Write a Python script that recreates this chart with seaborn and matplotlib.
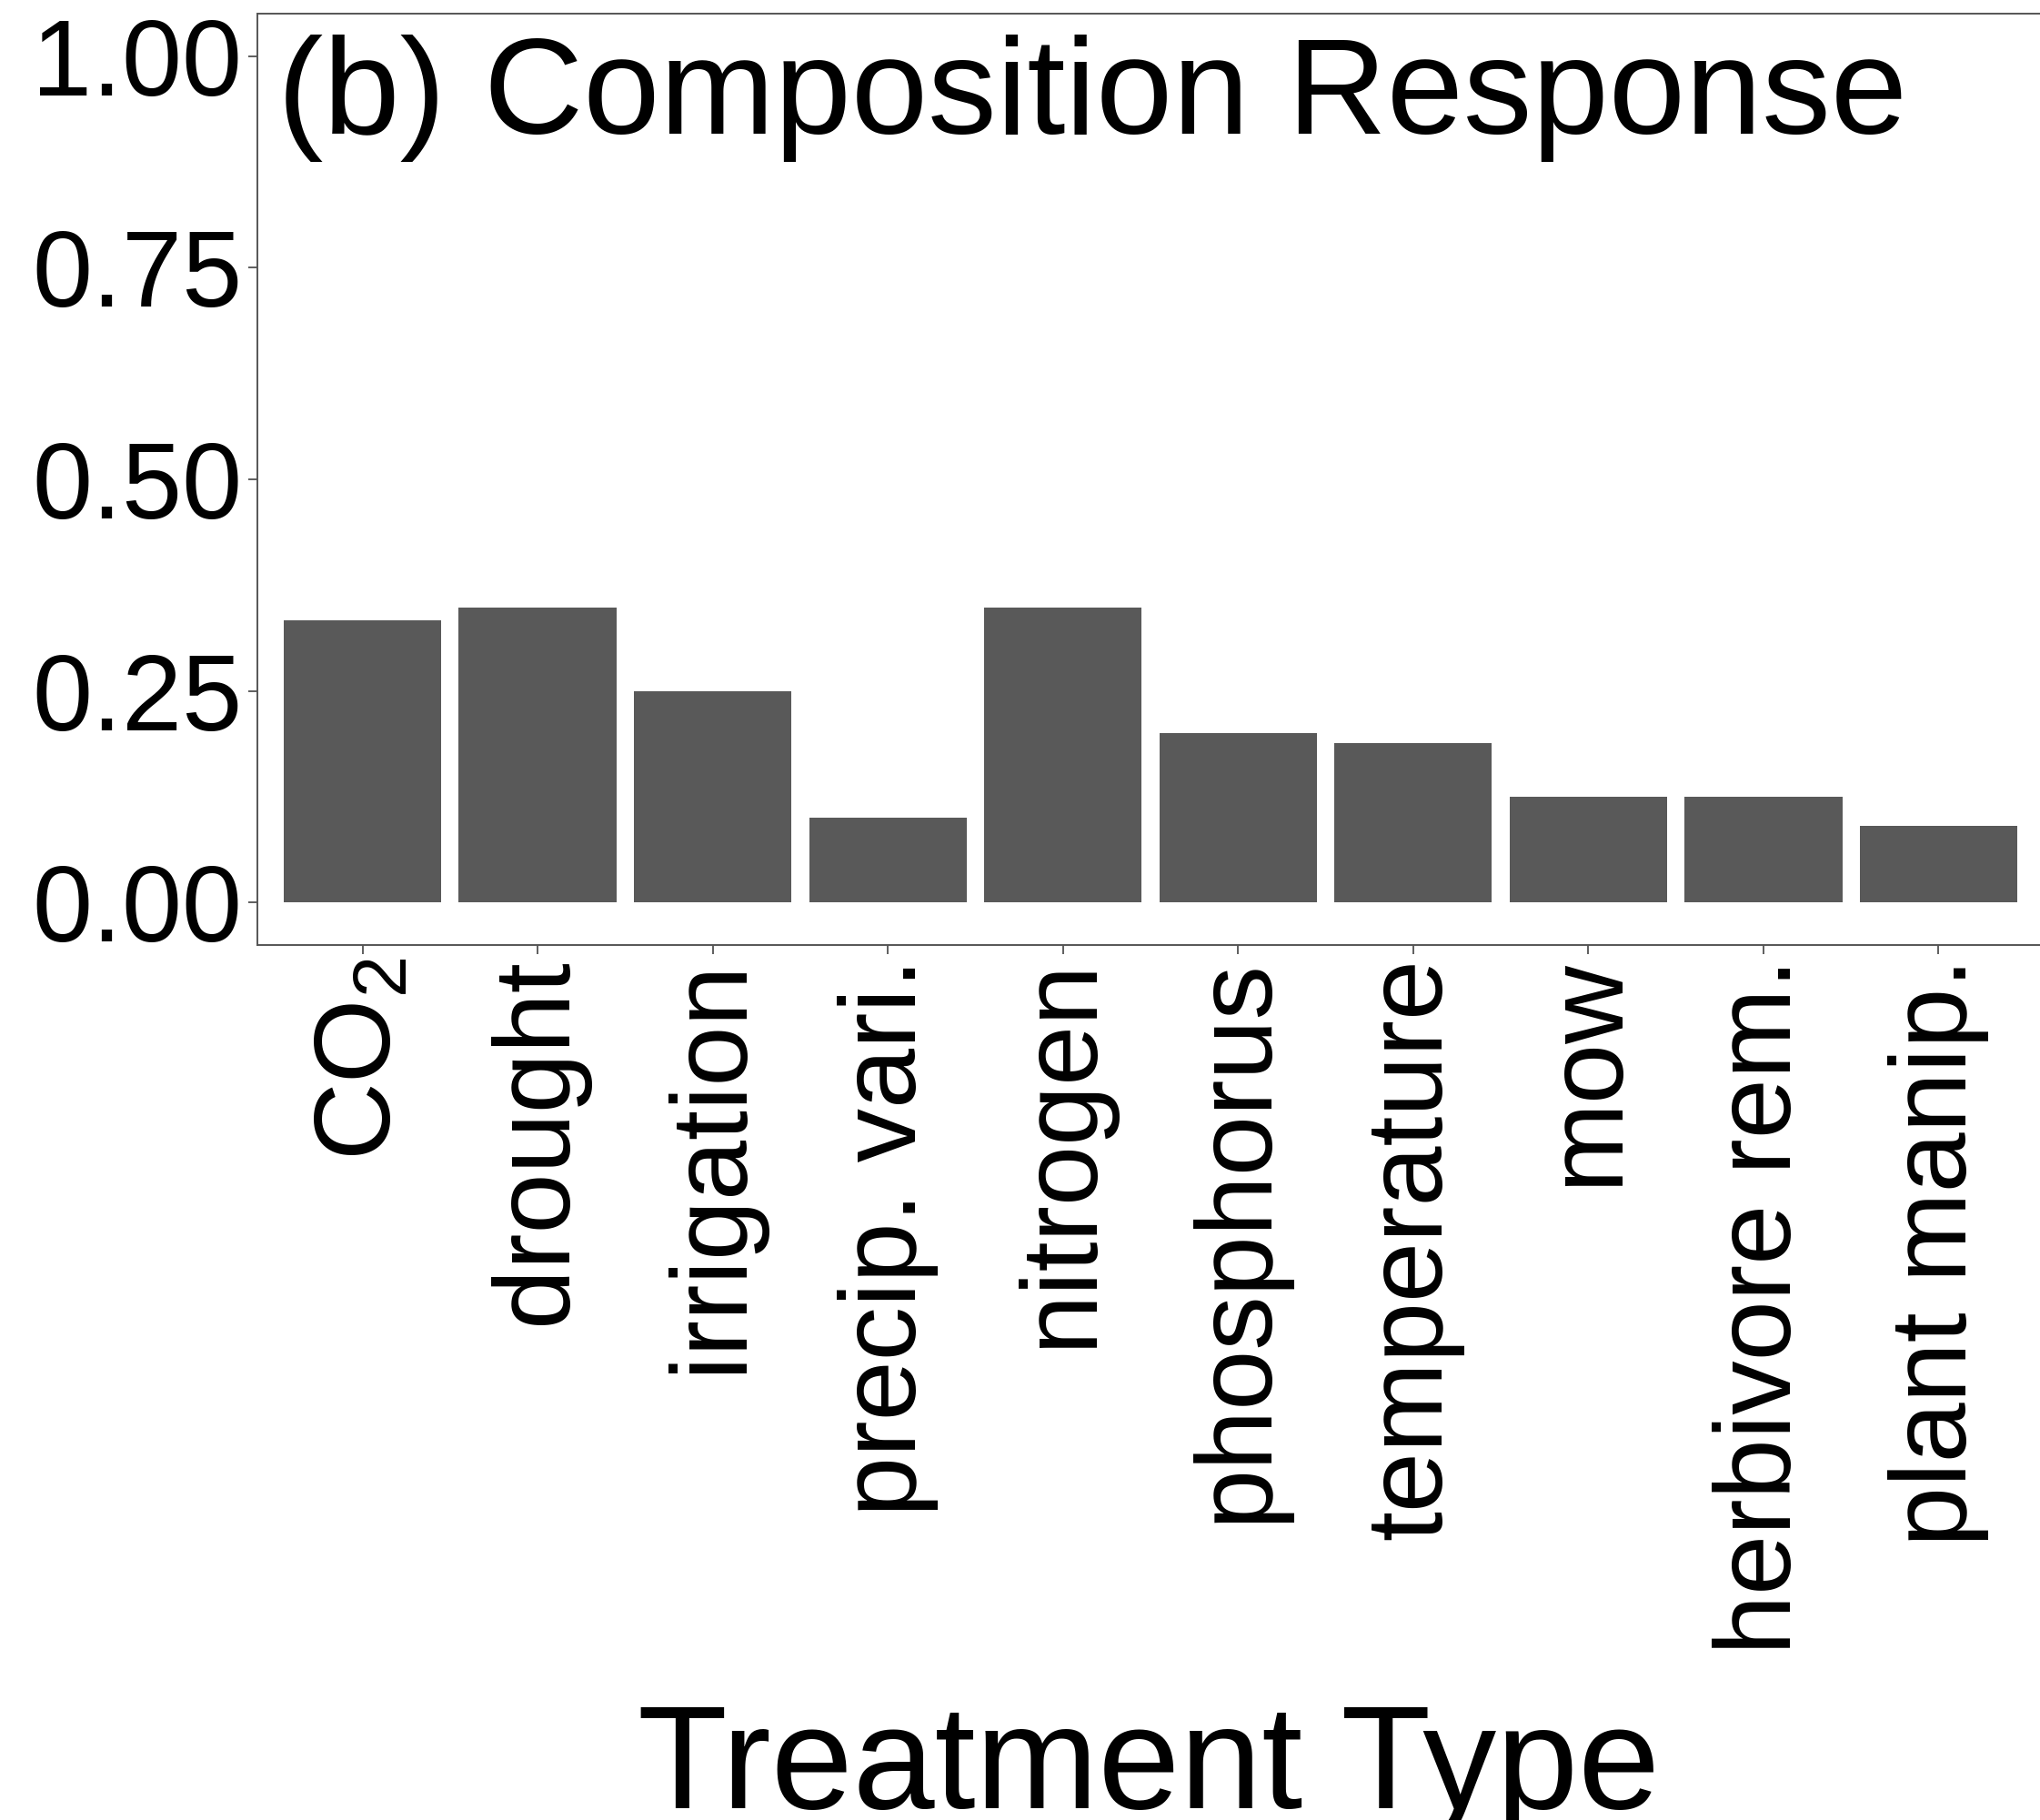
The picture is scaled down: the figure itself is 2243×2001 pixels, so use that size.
import matplotlib

matplotlib.use("Agg")
import matplotlib.pyplot as plt
import pandas as pd
import seaborn as sns

# Data
treatments = [
    "CO$_2$",
    "drought",
    "irrigation",
    "precip. vari.",
    "nitrogen",
    "phosphorus",
    "temperature",
    "mow",
    "herbivore rem.",
    "plant manip.",
]
proportion = [0.333, 0.348, 0.25, 0.10, 0.348, 0.20, 0.188, 0.125, 0.125, 0.091]
y_ticks = [0.0, 0.25, 0.5, 0.75, 1.0]
y_tick_labels = ["0.00", "0.25", "0.50", "0.75", "1.00"]

df = pd.DataFrame({"treatment": treatments, "proportion": proportion})

sns.set_style("white")
plt.rcParams["font.family"] = ["Liberation Sans", "DejaVu Sans"]
plt.rcParams["text.color"] = "black"
plt.rcParams["mathtext.fontset"] = "custom"
plt.rcParams["mathtext.rm"] = "Liberation Sans"
plt.rcParams["mathtext.it"] = "Liberation Sans:italic"
plt.rcParams["mathtext.default"] = "regular"

W, H = 2243, 2001
fig = plt.figure(figsize=(W / 100, H / 100), dpi=100)
# panel: left 283px, top 15px, bottom 1039px, right runs off the canvas
ax = fig.add_axes([283 / W, 1 - 1039 / H, 1964 / W, 1024 / H])

sns.barplot(
    data=df,
    x="treatment",
    y="proportion",
    color="#595959",
    saturation=1,
    width=0.9,
    linewidth=0,
    ax=ax,
)

ax.set_xlim(-0.6, len(treatments) - 0.4)
ax.set_ylim(-0.05, 1.05)
ax.set_yticks(y_ticks)
ax.set_yticklabels(y_tick_labels)
ax.set_xlabel("")
ax.set_ylabel("")

for side in ["left", "bottom", "top", "right"]:
    ax.spines[side].set_color("#555555")
    ax.spines[side].set_linewidth(1.4)

ax.tick_params(axis="both", which="major", length=7, width=1.1, color="#333333",
               labelcolor="black", labelsize=85.5, left=True, bottom=True, pad=5)
ax.tick_params(axis="x", pad=3)
plt.setp(ax.get_xticklabels(), rotation=90, va="top", ha="center")

fig.text(305 / W, 1 - 147 / H, "(b) Composition Response", fontsize=109,
         ha="left", va="baseline", color="black")
fig.text((283 + 980) / W, 13 / H, "Treatment Type", fontsize=116.5,
         ha="center", va="baseline", color="black")

fig.savefig("out.png", dpi=100)
